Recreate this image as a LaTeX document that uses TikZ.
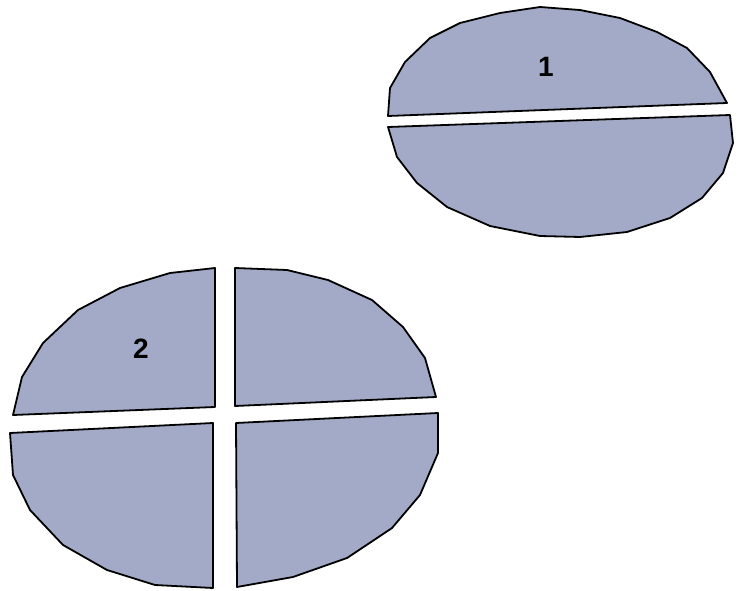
\documentclass[tikz,border=0pt]{standalone}
\usepackage{fontspec}
\setmainfont{Liberation Sans}
\definecolor{piecefill}{RGB}{163,170,199}
\begin{document}
\begin{tikzpicture}[x=1pt,y=-1pt,
  piece/.style={fill=piecefill,draw=black,line width=1.8pt,line join=round},
  lbl/.style={font=\fontsize{28}{30}\selectfont\bfseries,inner sep=0pt}]
\useasboundingbox (0,0) rectangle (740,591);
% ellipse 1, upper half
\draw[piece] (388,116) -- (390,88) -- (405,62) -- (430,38) -- (460,23) -- (500,13) -- (540,7) -- (580,10) -- (620,18) -- (657,32) -- (687,48) -- (710,72) -- (727,103) -- cycle;
% ellipse 1, lower half
\draw[piece] (388,127) -- (730,115) -- (733,143) -- (723,173) -- (702,198) -- (670,218) -- (627,232) -- (580,237) -- (540,236) -- (490,226) -- (447,207) -- (417,183) -- (397,157) -- cycle;
% ellipse 2, upper left
\draw[piece] (13,415) -- (22,377) -- (43,343) -- (78,310) -- (120,288) -- (170,273) -- (215,268) -- (215,407) -- cycle;
% ellipse 2, upper right
\draw[piece] (235,268) -- (287,270) -- (328,280) -- (372,300) -- (403,327) -- (425,358) -- (436,397) -- (235,406) -- cycle;
% ellipse 2, lower left
\draw[piece] (10,433) -- (213,423) -- (213,588) -- (155,585) -- (107,570) -- (63,545) -- (30,510) -- (13,475) -- cycle;
% ellipse 2, lower right
\draw[piece] (236,423) -- (438,413) -- (438,453) -- (420,495) -- (392,528) -- (347,558) -- (293,577) -- (237,587) -- cycle;
\node[lbl] (one) at (546,67) {1};
\node[lbl] (two) at (141,349) {2};
\end{tikzpicture}
\end{document}
